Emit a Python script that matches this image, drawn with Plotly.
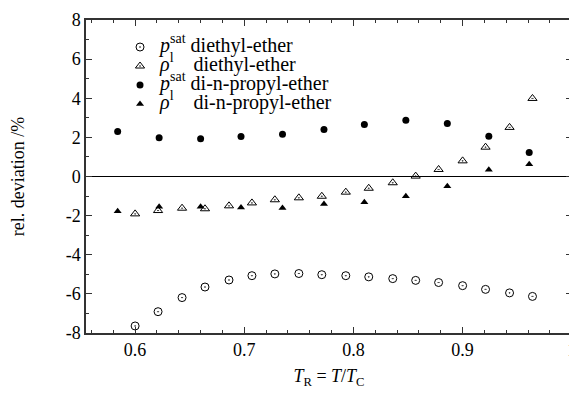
import plotly.graph_objects as go

# Reduced temperature grid for diethyl-ether
tr_diethyl = [0.600, 0.621, 0.643, 0.664, 0.686, 0.707, 0.728, 0.750, 0.771,
              0.793, 0.814, 0.836, 0.857, 0.878, 0.900, 0.921, 0.943, 0.964]
psat_diethyl = [-7.64, -6.91, -6.19, -5.65, -5.29, -5.07, -4.98, -4.96, -5.02,
                -5.07, -5.13, -5.22, -5.31, -5.42, -5.58, -5.77, -5.95, -6.13]
rho_diethyl = [-1.91, -1.74, -1.62, -1.65, -1.50, -1.35, -1.19, -1.09, -1.01,
               -0.80, -0.60, -0.32, 0.02, 0.36, 0.80, 1.50, 2.51, 3.99]

# Reduced temperature grid for di-n-propyl-ether
tr_propyl = [0.584, 0.622, 0.660, 0.697, 0.735, 0.773, 0.810, 0.848, 0.886, 0.924, 0.961]
psat_propyl = [2.30, 1.98, 1.93, 2.05, 2.16, 2.40, 2.66, 2.87, 2.71, 2.06, 1.23]
rho_propyl = [-1.77, -1.54, -1.54, -1.58, -1.61, -1.40, -1.32, -1.01, -0.50, 0.34, 0.63]

x_tickvals = [0.6, 0.7, 0.8, 0.9, 1.0]
x_ticktext = ["0.6", "0.7", "0.8", "0.9", "1"]
y_tickvals = [-8, -6, -4, -2, 0, 2, 4, 6, 8]
y_ticktext = ["-8", "-6", "-4", "-2", "0", "2", "4", "6", "8"]

FONT = "Liberation Serif"
NB = "&nbsp;"


def big(s):
    return '<span style="font-size:20px">' + s + "</span>"


fig = go.Figure()
fig.add_trace(go.Scatter(
    x=tr_diethyl, y=psat_diethyl, mode="markers",
    name=big("<i>p</i><sup>sat</sup> diethyl-ether"),
    marker=dict(symbol="circle-open-dot", size=8, color="black", line=dict(width=1))))
fig.add_trace(go.Scatter(
    x=tr_diethyl, y=rho_diethyl, mode="markers",
    name=big("<i>ρ</i><sup>l</sup>" + NB * 4 + "diethyl-ether"),
    marker=dict(symbol="triangle-up-open-dot", size=8, color="black", line=dict(width=1))))
fig.add_trace(go.Scatter(
    x=tr_propyl, y=psat_propyl, mode="markers",
    name=big("<i>p</i><sup>sat</sup> di-n-propyl-ether"),
    marker=dict(symbol="circle", size=7, color="black")))
fig.add_trace(go.Scatter(
    x=tr_propyl, y=rho_propyl, mode="markers",
    name=big("<i>ρ</i><sup>l</sup>" + NB * 4 + "di-n-propyl-ether"),
    marker=dict(symbol="triangle-up", size=7, color="black")))

axis_common = dict(
    showline=True, linecolor="#333", linewidth=1.5, mirror="allticks",
    ticks="inside", ticklen=6, tickcolor="#333", tickwidth=1,
    showgrid=False, automargin=False, ticklabeloverflow="allow",
)

fig.update_xaxes(
    range=[0.555, 1.0002], tickvals=x_tickvals, ticktext=x_ticktext,
    tickfont=dict(family=FONT, size=18, color="black"),
    minor=dict(dtick=0.02, tick0=0.6, ticks="inside", ticklen=3, tickcolor="#333", showgrid=False),
    title=dict(text="<i>T</i><sub>R</sub> = <i>T</i>/<i>T</i><sub>C</sub>",
               font=dict(family=FONT, size=18, color="black"), standoff=10),
    zeroline=False, **axis_common)
fig.update_yaxes(
    range=[-8, 8], tickvals=y_tickvals, ticktext=y_ticktext,
    tickfont=dict(family=FONT, size=18, color="black"),
    minor=dict(dtick=1, ticks="inside", ticklen=3, tickcolor="#333", showgrid=False),
    title=dict(text="rel. deviation /%", font=dict(family=FONT, size=18, color="black"),
               standoff=36),
    zeroline=True, zerolinecolor="black", zerolinewidth=1, **axis_common)

fig.update_layout(
    width=569, height=389,
    margin=dict(l=78, r=5, t=12, b=64),
    paper_bgcolor="white", plot_bgcolor="white",
    font=dict(family=FONT, size=17, color="black"),
    showlegend=True,
    legend=dict(x=0.07, y=0.96, xanchor="left", yanchor="top",
                bgcolor="rgba(0,0,0,0)", font=dict(family=FONT, size=12),
                itemwidth=30, tracegroupgap=0),
)

fig.write_html("out.html")
